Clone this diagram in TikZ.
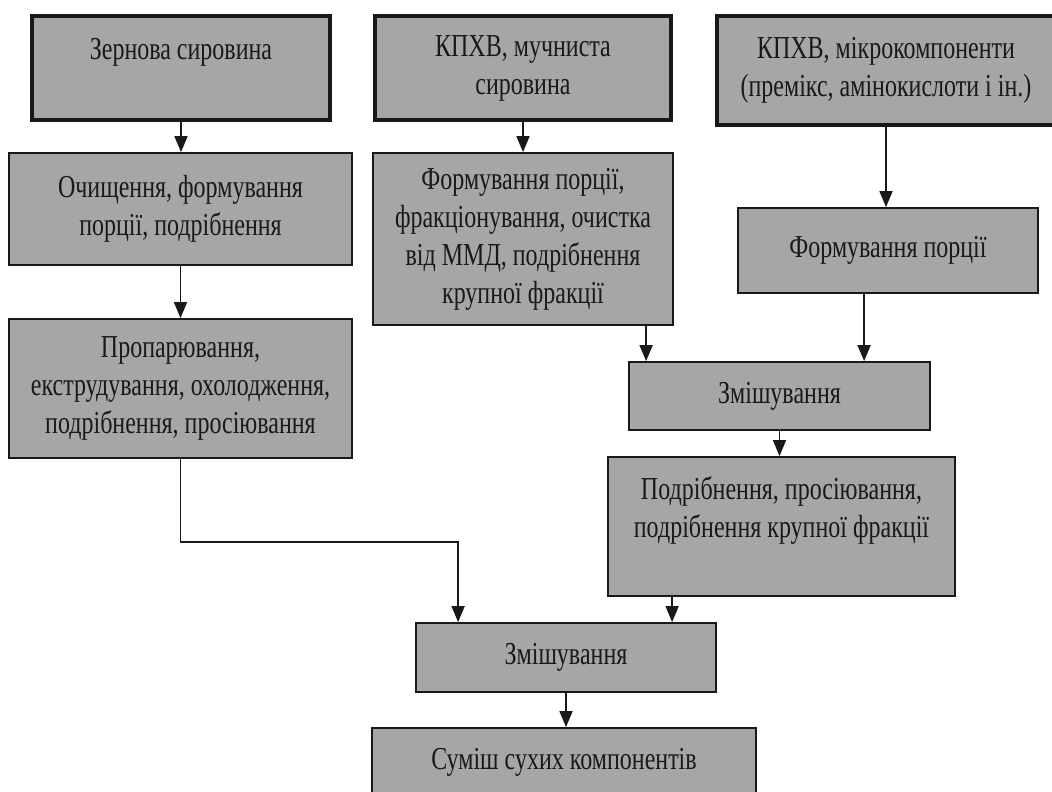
\documentclass[tikz,border=0pt]{standalone}
\usepackage{fontspec}
\setmainfont{Liberation Serif}[FakeStretch=0.75]
\usetikzlibrary{arrows.meta,calc}
\definecolor{boxgray}{RGB}{166,166,166}
\definecolor{inkc}{RGB}{25,25,25}
\begin{document}
\begin{tikzpicture}[x=1pt,y=-1pt,
  box/.style={draw=inkc,fill=boxgray,line width=1.8pt,rectangle,align=center,
    inner sep=2pt,text=inkc,font=\fontsize{32}{38}\selectfont},
  srcbox/.style={box,line width=4.5pt},
  arr/.style={draw=inkc,line width=1.6pt,-{Triangle[length=16pt,width=13pt]}}]
\clip (0,0) rectangle (1052,792);
\fill[white] (0,0) rectangle (1052,792);
% sources
\node[srcbox,minimum width=298pt,minimum height=104pt] (A) at (181,68) {Зернова сировина\\\mbox{}};
\node[srcbox,minimum width=296pt,minimum height=104pt] (B) at (523,68) {КПХВ, мучниста\\сировина};
\node[srcbox,minimum width=338pt,minimum height=109pt] (C) at (886,70.5) {КПХВ, мікрокомпоненти\\(премікс, амінокислоти і ін.)};
% processes
\node[box,minimum width=343pt,minimum height=112pt] (D) at (180.5,209) {Очищення, формування\\порції, подрібнення};
\node[box,minimum width=300pt,minimum height=172pt] (E) at (523,239) {Формування порції,\\фракціонування, очистка\\від ММД, подрібнення\\крупної фракції};
\node[box,minimum width=300pt,minimum height=85pt] (F) at (888,250.5) {Формування порції};
\node[box,minimum width=343pt,minimum height=139pt] (G) at (180.5,388.5) {Пропарювання,\\екструдування, охолодження,\\подрібнення, просіювання};
\node[box,minimum width=301pt,minimum height=68pt] (H) at (779.5,396) {Змішування};
\node[box,minimum width=347pt,minimum height=139pt] (I) at (781.5,526.5) {Подрібнення, просіювання,\\подрібнення крупної фракції\\\mbox{}};
\node[box,minimum width=300pt,minimum height=69pt] (J) at (566,657.5) {Змішування};
\node[box,minimum width=384pt,minimum height=68pt] (K) at (564,762) {Суміш сухих компонентів};
% connectors
\draw[arr] (A.south) -- (A.south |- D.north);
\draw[arr] (B.south) -- (B.south |- E.north);
\draw[arr] (C.south) -- (C.south |- F.north);
\draw[arr] (D.south) -- (D.south |- G.north);
\coordinate (j1) at ([xshift=43pt]J.north west);
\draw[arr] (G.south) -- ++(0,83) -| (j1);
\coordinate (h1) at ([xshift=18pt]H.north west);
\draw[arr] (E.south -| h1) -- (h1);
\coordinate (h2) at ([xshift=236pt]H.north west);
\draw[arr] (F.south -| h2) -- (h2);
\draw[arr] (H.south) -- (H.south |- I.north);
\coordinate (j2) at ([xshift=257pt]J.north west);
\draw[arr] (I.south -| j2) -- (j2);
\draw[arr] (J.south) -- (J.south |- K.north);
\end{tikzpicture}
\end{document}
